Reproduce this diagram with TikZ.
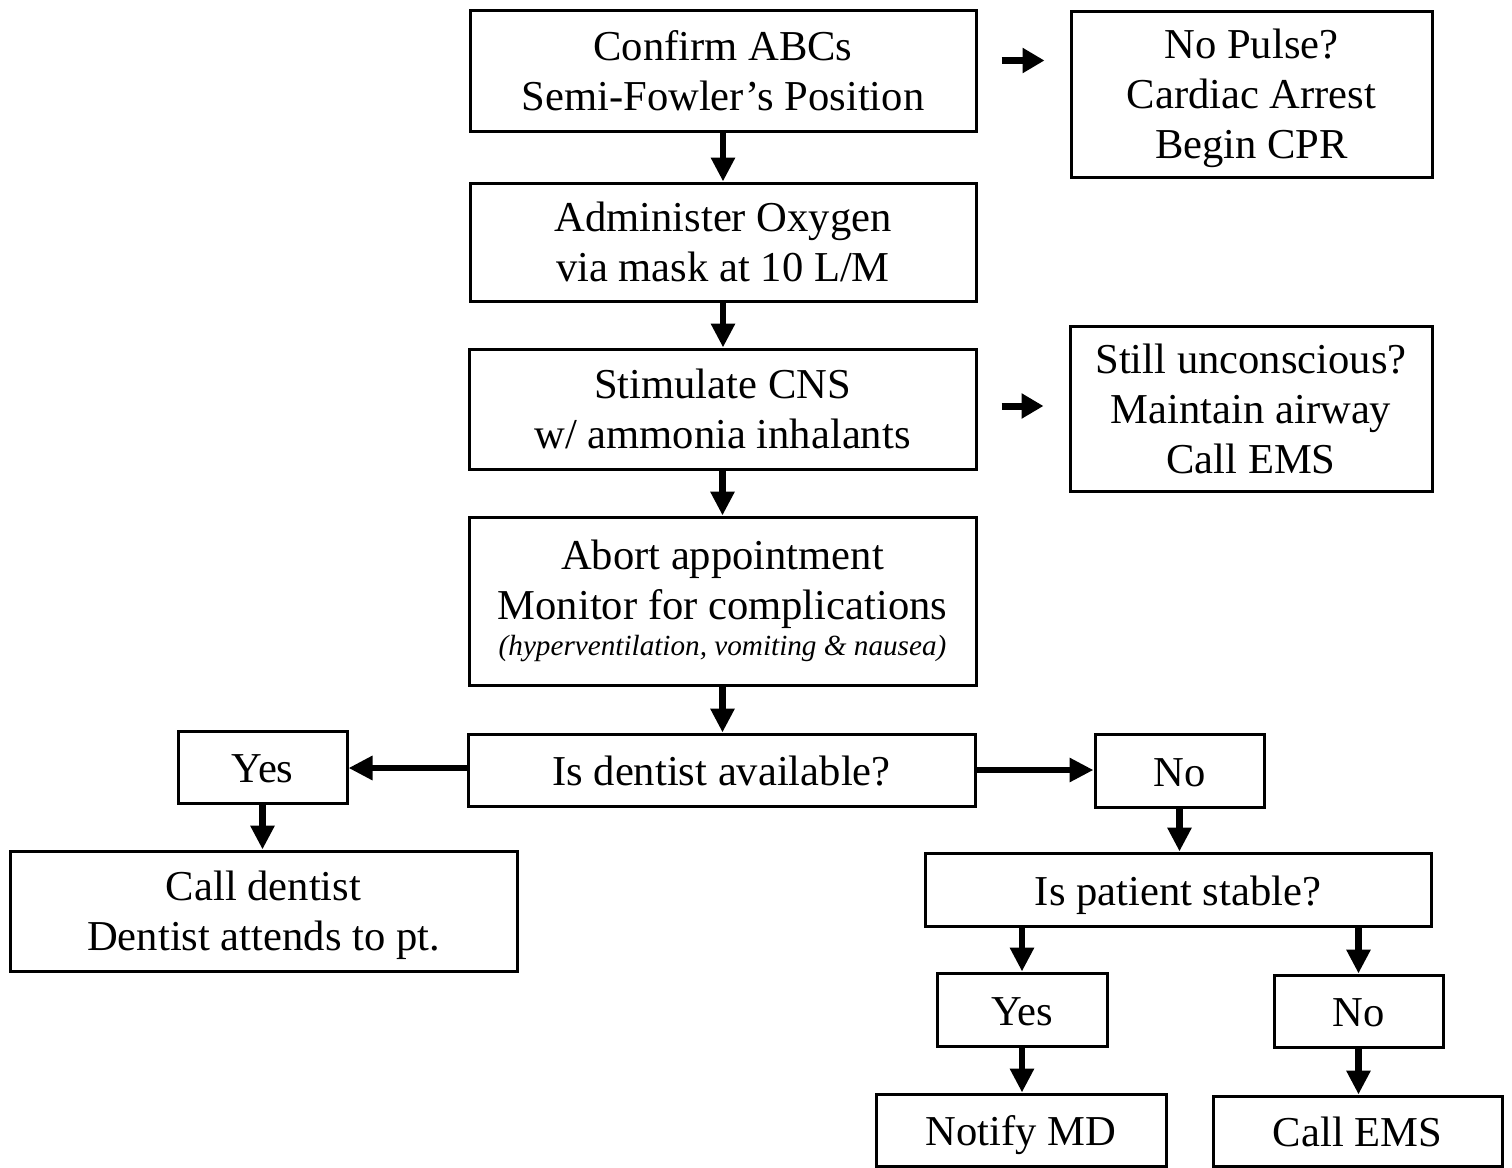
\documentclass[tikz,border=0pt]{standalone}
\usepackage{fontspec}
\setmainfont{Liberation Serif}
\usetikzlibrary{arrows.meta}
\begin{document}
\begin{tikzpicture}[x=0.5pt,y=-0.5pt,
  box/.style={draw, line width=1.5pt, align=center, inner sep=0pt,
    font=\fontsize{21.3}{25}\selectfont},
  multi/.style={box, text depth=0pt},
  single/.style={box, text height=15.5pt, text depth=0pt},
  arr/.style={line width=3.2pt, -{Triangle[length=12pt,width=11.5pt]}},
  sarr/.style={line width=3.5pt, -{Triangle[length=11pt,width=12pt]}}]
\useasboundingbox (0,0) rectangle (1512,1168);
\node[multi, minimum width=253pt, minimum height=60.5pt] (b1) at (723,70.5) {Confirm ABCs\\Semi-Fowler’s Position};
\node[multi, minimum width=180.5pt, minimum height=83pt] (r1) at (1251.5,94) {No Pulse?\\Cardiac Arrest\\Begin CPR};
\node[multi, minimum width=253pt, minimum height=59pt] (b2) at (723,242) {Administer Oxygen\\via mask at 10 L/M};
\node[multi, minimum width=253.5pt, minimum height=60pt] (b3) at (722.5,409) {Stimulate CNS\\w/ ammonia inhalants};
\node[multi, minimum width=181pt, minimum height=82.5pt] (r2) at (1251,408.5) {Still unconscious?\\Maintain airway\\Call EMS};
\node[box, minimum width=253.5pt, minimum height=84pt] (b4) at (722.5,601) {Abort appointment\\Monitor for complications\\[-7pt]{\fontsize{14.6}{17}\selectfont\itshape (hyperventilation, vomiting \& nausea)}};
\node[single, minimum width=253.5pt, minimum height=36pt] (b5) at (721.5,770) {Is dentist available?};
\node[single, minimum width=84.5pt, minimum height=36pt] (y1) at (262.5,767) {Yes};
\node[multi, minimum width=253.5pt, minimum height=60pt] (cd) at (263.5,911) {Call dentist\\Dentist attends to pt.};
\node[single, minimum width=84.5pt, minimum height=36.5pt] (n1) at (1179.5,770.5) {No};
\node[single, minimum width=253pt, minimum height=36.5pt] (ps) at (1178,889.5) {Is patient stable?};
\node[single, minimum width=85pt, minimum height=36.5pt] (y2) at (1022,1009.5) {Yes};
\node[single, minimum width=84.5pt, minimum height=36pt] (n2) at (1358.5,1011) {No};
\node[single, minimum width=145pt, minimum height=36pt] (md) at (1021,1130) {Notify MD};
\node[single, minimum width=144.5pt, minimum height=35pt] (ems) at (1357.5,1131) {Call EMS};

\draw[sarr, shorten <=12pt, shorten >=12.5pt] ([yshift=5pt]b1.east) -- ([yshift=5pt]b1.east -| r1.west);
\draw[sarr, shorten <=12pt, shorten >=12.5pt] ([yshift=1.5pt]b3.east) -- ([yshift=1.5pt]b3.east -| r2.west);
\draw[arr] (b1.south) -- (b2.north);
\draw[arr] (b2.south) -- (b2.south |- b3.north);
\draw[arr] (b3.south) -- (b3.south |- b4.north);
\draw[arr] (b4.south) -- (b4.south |- b5.north);
\draw[arr] ([yshift=1pt]b5.west) -- ([yshift=1pt]b5.west -| y1.east);
\draw[arr] (b5.east) -- (b5.east -| n1.west);
\draw[arr] (y1.south) -- (y1.south |- cd.north);
\draw[arr] (n1.south) -- (n1.south |- ps.north);
\draw[arr] (y2.north |- ps.south) -- (y2.north);
\draw[arr] (n2.north |- ps.south) -- (n2.north);
\draw[arr] (y2.south) -- (y2.south |- md.north);
\draw[arr] (n2.south) -- (n2.south |- ems.north);
\end{tikzpicture}
\end{document}
